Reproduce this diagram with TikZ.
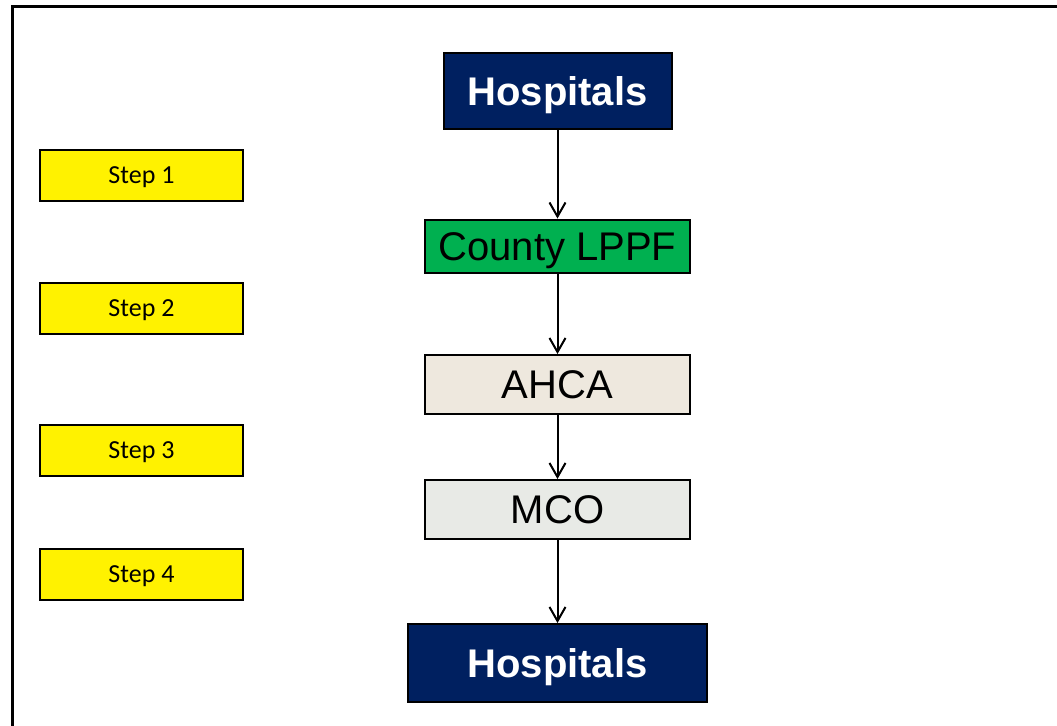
\documentclass[tikz,border=0pt]{standalone}
\usepackage{fontspec}
\setmainfont{Liberation Sans}
\newfontfamily\stepfont{Carlito}
\usetikzlibrary{arrows.meta}
\definecolor{navy}{RGB}{0,32,96}
\definecolor{lppfgreen}{RGB}{0,176,80}
\definecolor{ahcabeige}{RGB}{238,232,222}
\definecolor{mcogray}{RGB}{232,234,230}
\begin{document}
\begin{tikzpicture}[x=0.5pt, y=-0.5pt, line width=1pt,
    box/.style={draw=black, inner sep=0pt, text height=14.3pt, text depth=0pt,
      font=\fontsize{20}{24}\selectfont, text=black},
    hospbox/.style={box, fill=navy, text=white, font=\fontsize{20}{24}\selectfont\bfseries},
    stepbox/.style={draw=black, fill=yellow, inner sep=0pt, minimum width=101.5pt,
      minimum height=25.5pt, text height=8.4pt, text depth=0pt,
      font=\stepfont\fontsize{13}{15}\selectfont},
    flow/.style={-{Straight Barb[length=7pt,width=8pt]}}]
  \useasboundingbox (0,0) rectangle (1057,725);
  % frame
  \draw[line width=1.5pt] (12,740) -- (12,6) -- (1070,6);
  % flow boxes
  \node[hospbox, minimum width=114pt, minimum height=38pt] (hosp top) at (557.5,91) {Hospitals};
  \node[box, fill=lppfgreen, minimum width=132.5pt, minimum height=26.5pt] (lppf) at (557.5,246) {County LPPF};
  \node[box, fill=ahcabeige, minimum width=132.5pt, minimum height=29.5pt] (ahca) at (557.5,384.5) {AHCA};
  \node[box, fill=mcogray, minimum width=132.5pt, minimum height=29.5pt] (mco) at (557.5,509.5) {MCO};
  \node[hospbox, minimum width=149.5pt, minimum height=39pt] (hosp bottom) at (557.5,663) {Hospitals};
  % arrows
  \draw[flow] (hosp top) -- (lppf);
  \draw[flow] (lppf) -- (ahca);
  \draw[flow] (ahca) -- (mco);
  \draw[flow] (mco) -- (hosp bottom);
  % steps
  \foreach \n/\y in {1/175.5,2/308,3/450,4/574.5}
    \node[stepbox] (step \n) at (141.5,\y) {Step \n};
\end{tikzpicture}
\end{document}
